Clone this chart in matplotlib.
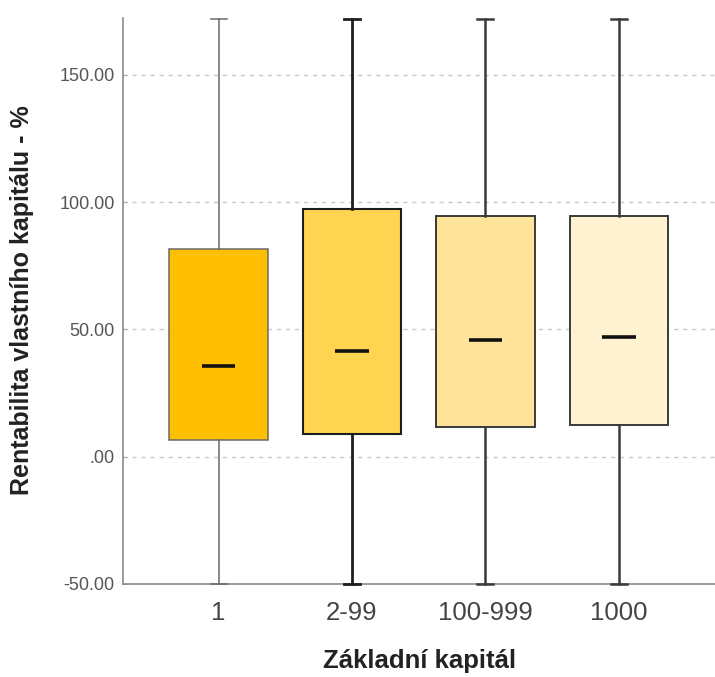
import numpy as np
import matplotlib
matplotlib.use("Agg")
import matplotlib.pyplot as plt
from matplotlib.ticker import FixedLocator, FixedFormatter

plt.rcParams['font.family'] = ['Liberation Sans', 'DejaVu Sans']

# Summary statistics per group of base capital
groups = ["1", "2-99", "100-999", "1000"]
q1 = [6.7, 9.1, 11.5, 12.4]
med = [35.7, 41.4, 45.8, 47.2]
q3 = [81.6, 97.3, 94.5, 94.5]
whis_lo = [-50.0, -50.0, -50.0, -50.0]
whis_hi = [172.0, 172.0, 172.0, 172.0]

ytick_vals = [-50, 0, 50, 100, 150]
ytick_labels = ["-50.00", ".00", "50.00", "100.00", "150.00"]

box_colors = ['#FEBF00', '#FED451', '#FEE498', '#FEF2D1']
edge_colors = ['#6a6a6a', '#1e1e1e', '#3a3a3a', '#3a3a3a']
edge_widths = [1.1, 1.5, 1.4, 1.4]
whisker_widths = [1.1, 2.0, 1.8, 1.8]

fig = plt.figure(figsize=(7.15, 6.77), dpi=100)
ax = fig.add_axes([0.172, 0.1374, 0.828, 0.836])

pos = np.arange(1, len(groups) + 1)
stats = [dict(label=g, q1=a, med=m, q3=b, whislo=lo, whishi=hi, fliers=[])
         for g, a, m, b, lo, hi in zip(groups, q1, med, q3, whis_lo, whis_hi)]

for i, st in enumerate(stats):
    art = ax.bxp([st], positions=[pos[i]], widths=0.74, patch_artist=True,
                 showfliers=False, capwidths=[0.12],
                 boxprops=dict(facecolor=box_colors[i], edgecolor=edge_colors[i],
                               linewidth=edge_widths[i]),
                 whiskerprops=dict(color=edge_colors[i], linewidth=whisker_widths[i]),
                 capprops=dict(color=edge_colors[i], linewidth=whisker_widths[i]),
                 medianprops=dict(visible=False), zorder=3)
    for ln in art['caps'] + art['whiskers']:
        ln.set_clip_on(False)

# short, heavy median marks
ax.hlines(med, pos - 0.125, pos + 0.125, colors='#111111', linewidth=2.6, zorder=5)

ax.set_xlim(0.284, 4.72)
ax.set_ylim(-50, 172.3)

ax.yaxis.set_major_locator(FixedLocator(ytick_vals))
ax.yaxis.set_major_formatter(FixedFormatter(ytick_labels))
ax.set_xticks(pos)
ax.set_xticklabels(groups)

for y in ytick_vals[1:]:
    ax.axhline(y, color='#c8c8c8', linewidth=1.0, dashes=(3.0, 3.5), zorder=1)

for side in ('top', 'right'):
    ax.spines[side].set_visible(False)
for side in ('left', 'bottom'):
    ax.spines[side].set_color('#8a8a8a')
    ax.spines[side].set_linewidth(1.2)

ax.tick_params(axis='y', direction='in', length=3, width=0.8, color='#aaaaaa',
               labelsize=13, labelcolor='#555555', pad=6)
ax.tick_params(axis='x', length=0, labelsize=18.5, labelcolor='#444444', pad=12)

fig.text(0.031, 0.557, "Rentabilita vlastního kapitálu - %", rotation=90,
         ha='center', va='center', fontsize=18, fontweight='bold', color='#222222')
fig.text(0.587, 0.0133, "Základní kapitál", ha='center', va='baseline',
         fontsize=18.5, fontweight='bold', color='#222222')

fig.savefig("out.png", dpi=100, facecolor='white')
